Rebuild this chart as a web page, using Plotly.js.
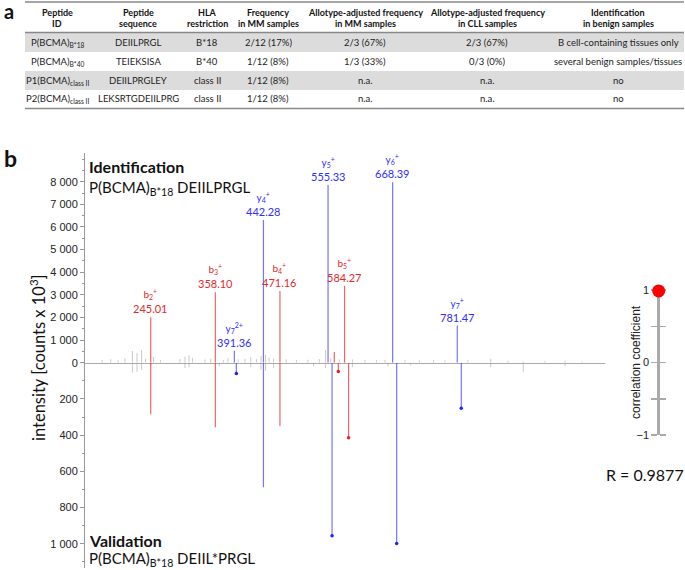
<!DOCTYPE html>
<html><head><meta charset="utf-8">
<script src="https://cdn.plot.ly/plotly-3.0.1.min.js"></script>
<style>html,body{margin:0;padding:0;background:#fff}#chart{width:685px;height:570px}</style>
</head><body><div id="chart"></div>
<script>
// ---------- Panel a: table ----------
const headerTop = ["Peptide", "Peptide", "HLA", "Frequency", "Allotype-adjusted frequency", "Allotype-adjusted frequency", "Identification"];
const headerBottom = ["ID", "sequence", "restriction", "in MM samples", "in MM samples", "in CLL samples", "in benign samples"];
const peptideIds = ["P(BCMA)<sub>B*18</sub>", "P(BCMA)<sub>B*40</sub>", "P1(BCMA)<sub>class II</sub>", "P2(BCMA)<sub>class II</sub>"];
const peptideSequences = ["DEIILPRGL", "TEIEKSISA", "DEIILPRGLEY", "LEKSRTGDEIILPRG"];
const hlaRestriction = ["B*18", "B*40", "class II", "class II"];
const freqMM = ["2/12 (17%)", "1/12 (8%)", "1/12 (8%)", "1/12 (8%)"];
const allotypeMM = ["2/3 (67%)", "1/3 (33%)", "n.a.", "n.a."];
const allotypeCLL = ["2/3 (67%)", "0/3 (0%)", "n.a.", "n.a."];
const benignIdent = ["B cell-containing tissues only", "several benign samples/tissues", "no", "no"];

// ---------- Panel b: mirror spectrum ----------
const ionNames = ["b<sub>2</sub><sup>+</sup>", "b<sub>3</sub><sup>+</sup>", "y<sub>7</sub><sup>2+</sup>", "y<sub>4</sub><sup>+</sup>", "b<sub>4</sub><sup>+</sup>", "y<sub>5</sub><sup>+</sup>", "b<sub>5</sub><sup>+</sup>", "y<sub>6</sub><sup>+</sup>", "y<sub>7</sub><sup>+</sup>"];
const ionTypes = ["b", "b", "y", "y", "b", "y", "b", "y", "y"];
const ionMz = [245.01, 358.10, 391.36, 442.28, 471.16, 555.33, 584.27, 668.39, 781.47];
const identIntensity = [2010, 3110, 530, 6310, 3170, 7860, 3400, 7980, 1640];
const validMz = [245.01, 358.10, 394.87, 442.28, 471.16, 562.35, 591.29, 675.41, 788.49];
const validIntensity = [285, 357, 59, 688, 350, 956, 414, 998, 252];
const validHeavy = [false, false, true, false, false, true, true, true, true];
// b5-H2O (unlabelled)
const lossMzIdent = [566.26];
const lossIntIdent = [470];
const lossMzValid = [573.28];
const lossIntValid = [48];
// background (unassigned) peaks
const noiseMzIdent = [160, 175, 188, 200, 213, 221, 229, 236, 250, 262, 296, 305, 312, 318, 340, 350, 372, 380, 398, 410, 420, 430, 438, 446, 452, 460, 482, 500, 520, 540, 551, 560, 575, 598, 620, 640, 655, 690, 715, 740, 760, 800, 840, 870, 897, 935, 970, 1000];
const noiseIntIdent = [120, 150, 100, 200, 520, 420, 550, 180, 250, 120, 160, 260, 330, 220, 140, 180, 120, 200, 150, 170, 250, 160, 300, 350, 220, 180, 150, 120, 130, 160, 560, 200, 150, 140, 130, 110, 120, 110, 100, 120, 100, 110, 170, 90, 60, 80, 90, 60];
const noiseMzValid = [213, 221, 229, 245, 305, 312, 365, 420, 438, 446, 460, 530, 551, 598, 660, 700, 840, 897, 970];
const noiseIntValid = [55, 50, 40, 20, 30, 25, 20, 25, 40, 45, 30, 20, 30, 25, 20, 15, 25, 50, 20];
const identTicks = [0, 1000, 2000, 3000, 4000, 5000, 6000, 7000, 8000];
const validTicks = [200, 400, 600, 800, 1000];
const correlationR = 0.9877;

const W = 685, H = 570;
const px = v => v / W, py = v => 1 - v / H;
const RED_LINE = "rgba(232,50,50,0.75)", BLUE_LINE = "rgba(70,70,255,0.75)";
const RED_TXT = "#e42a2a", BLUE_TXT = "#2e2eff";
const GRAY = "rgba(150,150,150,0.5)";

function sticks(mz, it) {
  const x = [], y = [];
  mz.forEach((m, i) => { x.push(m, m, null); y.push(0, it[i], null); });
  return {x, y};
}
function pick(arr, mask) { return arr.filter((_, i) => mask[i]); }

const isB = ionTypes.map(t => t === "b"), isY = ionTypes.map(t => t === "y");
const traces = [];
function addSticks(mz, it, color, yaxis, width) {
  const s = sticks(mz, it);
  traces.push({type: "scatter", mode: "lines", x: s.x, y: s.y, yaxis: yaxis, xaxis: "x",
    line: {color: color, width: width || 1.2}, hoverinfo: "skip", cliponaxis: false});
}
addSticks(noiseMzIdent, noiseIntIdent, GRAY, "y", 1);
addSticks(noiseMzValid, noiseIntValid, GRAY, "y2", 1);
addSticks(pick(ionMz, isB), pick(identIntensity, isB), RED_LINE, "y");
addSticks(pick(ionMz, isY), pick(identIntensity, isY), BLUE_LINE, "y");
addSticks(lossMzIdent, lossIntIdent, RED_LINE, "y");
addSticks(pick(validMz, isB), pick(validIntensity, isB), RED_LINE, "y2");
addSticks(pick(validMz, isY), pick(validIntensity, isY), BLUE_LINE, "y2");
addSticks(lossMzValid, lossIntValid, RED_LINE, "y2");
const heavyB = isB.map((b, i) => b && validHeavy[i]);
const heavyY = isY.map((b, i) => b && validHeavy[i]);
traces.push({type: "scatter", mode: "markers", x: pick(validMz, heavyB).concat(lossMzValid), y: pick(validIntensity, heavyB).concat(lossIntValid),
  yaxis: "y2", marker: {color: "#e82020", size: 3.5}, cliponaxis: false, hoverinfo: "skip"});
traces.push({type: "scatter", mode: "markers", x: pick(validMz, heavyY), y: pick(validIntensity, heavyY),
  yaxis: "y2", marker: {color: "#2020ff", size: 3.5}, cliponaxis: false, hoverinfo: "skip"});
traces.push({type: "scatter", mode: "markers", x: [0], y: [correlationR], xaxis: "x3", yaxis: "y3",
  marker: {color: "#ff0000", size: 13}, cliponaxis: false, hoverinfo: "skip"});

const annotations = [];
// peak labels
ionMz.forEach((m, i) => {
  annotations.push({xref: "x", yref: "y", x: m, y: identIntensity[i], xanchor: "center", yanchor: "bottom",
    showarrow: false, borderpad: 0, yshift: 1,
    text: '<span style="font-size:10px">' + ionNames[i] + '</span><br>' + m.toFixed(2),
    font: {family: "Lato, sans-serif", size: 11, color: ionTypes[i] === "b" ? RED_TXT : BLUE_TXT}});
});
function addText(text, x, y, size, opts) {
  annotations.push(Object.assign({xref: "paper", yref: "paper", x: px(x), y: py(y), text: text, showarrow: false,
    xanchor: "center", yanchor: "middle", borderpad: 0,
    font: {family: "Lato, sans-serif", size: size, color: "#111"}}, opts || {}));
}
addText("<b>a</b>", 3, 11, 20, {xanchor: "left"});
addText("<b>b</b>", 3, 158, 23, {xanchor: "left"});
addText("<b>Identification</b>", 88, 166, 16, {xanchor: "left"});
addText("P(BCMA)<sub>B*18</sub> DEIILPRGL", 88, 188, 15, {xanchor: "left"});
addText("<b>Validation</b>", 88, 540, 16, {xanchor: "left"});
addText("P(BCMA)<sub>B*18</sub> DEIIL*PRGL", 88, 559, 15, {xanchor: "left"});
addText("intensity [counts x 10<sup>3</sup>]", 38, 358, 16.5, {textangle: -90});
addText("correlation coefficient", 636, 362, 12, {textangle: -90, font: {family: "Liberation Sans, Arial", size: 12, color: "#222"}});
addText("R = 0.9877", 645, 474, 16);

// table
const colX = [57, 138, 207, 268, 365, 487, 618];
const rowY = [42.5, 61.5, 80.5, 99];
const columns = [peptideIds, peptideSequences, hlaRestriction, freqMM, allotypeMM, allotypeCLL, benignIdent];
colX.forEach((cx, c) => {
  addText("<b>" + headerTop[c] + "</b>", cx, 13, 9);
  addText("<b>" + headerBottom[c] + "</b>", cx, 23.5, 9);
  columns[c].forEach((v, r) => addText(v, cx, rowY[r], 9.5, {font: {family: "Lato, sans-serif", size: 9.5, color: "#222"}}));
});
const shapes = [
  {type: "rect", xref: "paper", yref: "paper", x0: px(25), x1: px(684), y0: py(33), y1: py(52), fillcolor: "#dcdcdc", line: {width: 0}, layer: "below"},
  {type: "rect", xref: "paper", yref: "paper", x0: px(25), x1: px(684), y0: py(71), y1: py(90), fillcolor: "#dcdcdc", line: {width: 0}, layer: "below"}
];
[2, 32.5, 108.5].forEach(yy => shapes.push({type: "line", xref: "paper", yref: "paper", x0: px(25), x1: px(684), y0: py(yy), y1: py(yy), line: {color: "#888", width: 1.5}}));

const axTick = {family: "Liberation Sans, Arial, sans-serif", size: 11, color: "#222"};
const layout = {
  width: W, height: H, margin: {l: 0, r: 0, t: 0, b: 0},
  paper_bgcolor: "#fff", plot_bgcolor: "rgba(0,0,0,0)", showlegend: false, separators: ". ",
  font: {family: "Lato, sans-serif", color: "#111"},
  xaxis: {domain: [px(85), px(605)], range: [130, 1040], anchor: "y", showline: true, linecolor: "#aaa", linewidth: 1.5,
    showticklabels: false, ticks: "", showgrid: false, zeroline: false, fixedrange: true},
  yaxis: {domain: [py(362.7), py(153)], range: [0, 9269], anchor: "x", showline: true, linecolor: "#999", linewidth: 1,
    ticks: "outside", ticklen: 4, tickcolor: "#999", tickmode: "array", tickvals: identTicks, separatethousands: true, tickfont: axTick,
    showgrid: false, zeroline: false, minor: {tickmode: "linear", tick0: 0, dtick: 500, ticklen: 2, tickcolor: "#999", ticks: "outside"}},
  yaxis2: {domain: [py(568), py(362.7)], range: [1134, 0], anchor: "x", showline: true, linecolor: "#999", linewidth: 1,
    ticks: "outside", ticklen: 4, tickcolor: "#999", tickmode: "array", tickvals: validTicks, separatethousands: true, tickfont: axTick,
    showgrid: false, zeroline: false, minor: {tickmode: "linear", tick0: 0, dtick: 100, ticklen: 2, tickcolor: "#999", ticks: "outside"}},
  xaxis3: {domain: [px(658.6), px(658.8)], range: [-1, 1], anchor: "y3", visible: false},
  yaxis3: {domain: [py(435), py(290)], range: [-1, 1], anchor: "x3", showline: true, linecolor: "#aaa", linewidth: 1.3,
    ticks: "outside", ticklen: 6, tickwidth: 1.5, tickcolor: "#aaa", mirror: "ticks", dtick: 1, tick0: 0, layer: "below traces",
    tickfont: axTick, showgrid: false, zeroline: false,
    minor: {dtick: 0.5, ticklen: 6, tickwidth: 1.5, tickcolor: "#aaa", ticks: "outside"}},
  annotations: annotations, shapes: shapes
};
Plotly.newPlot("chart", traces, layout, {displayModeBar: false, staticPlot: true});
</script></body></html>
